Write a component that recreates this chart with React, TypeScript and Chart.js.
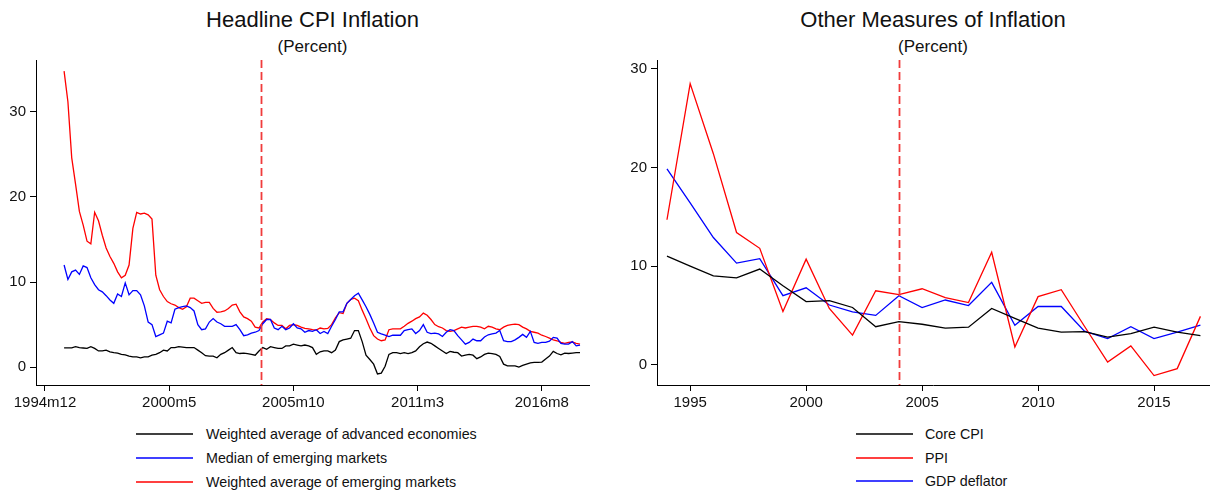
import React, { useEffect, useRef } from 'react';
import { Chart, registerables } from 'chart.js';

Chart.register(...registerables);

const FONT = '"Liberation Sans", Arial, Helvetica, sans-serif';

// ---------- Left panel: Headline CPI inflation (monthly, index 0 = 1994m12) ----------
const cpiStartMonth = 10;
const cpiStepMonths = 2;

const advancedCPI = [
  2.27, 2.27, 2.27, 2.4, 2.3, 2.25, 2.2, 2.4, 2.2, 1.9,
  1.9, 2.0, 1.8, 1.7, 1.65, 1.5, 1.45, 1.3, 1.2, 1.2,
  1.1, 1.2, 1.2, 1.4, 1.5, 1.7, 2.0, 1.9, 2.3, 2.3,
  2.4, 2.35, 2.3, 2.3, 2.3, 2.0, 1.7, 1.35, 1.3, 1.3,
  1.1, 1.5, 1.7, 2.0, 2.3, 1.7, 1.6, 1.65, 1.6, 1.5,
  1.4, 1.9, 2.3, 2.1, 2.4, 2.3, 2.2, 2.2, 2.5, 2.5,
  2.7, 2.6, 2.5, 2.6, 2.5, 2.3, 1.5, 1.8, 1.9, 1.9,
  1.7, 2.0, 3.0, 3.2, 3.3, 3.4, 4.3, 4.3, 3.0, 1.4,
  0.9, 0.35, -0.8, -0.7, 0.1, 1.5, 1.7, 1.7, 1.6, 1.7,
  1.6, 1.7, 1.9, 2.4, 2.75, 2.95, 2.8, 2.5, 2.2, 1.9,
  1.6, 1.85, 1.75, 1.7, 1.3, 1.4, 1.5, 1.4, 1.0, 1.2,
  1.5, 1.65, 1.6, 1.5, 1.25, 0.35, 0.15, 0.15, 0.15, 0.0,
  0.2, 0.35, 0.5, 0.55, 0.55, 0.6, 0.95, 1.3, 1.85, 1.6,
  1.45, 1.65, 1.6, 1.65, 1.7, 1.7,
];

const medianEM = [
  12.0, 10.3, 11.2, 11.4, 10.9, 11.9, 11.7, 10.5, 9.7, 9.1,
  8.85, 8.4, 7.9, 7.5, 8.6, 8.3, 9.9, 8.5, 9.0, 9.0,
  8.5, 7.2, 5.3, 5.0, 3.6, 3.8, 4.0, 5.4, 5.2, 6.8,
  7.0, 7.1, 7.2, 7.0, 6.6, 5.0, 4.4, 4.5, 5.3, 5.7,
  5.3, 5.1, 4.8, 4.8, 4.8, 5.0, 4.4, 3.7, 3.8, 4.0,
  4.1, 4.3, 5.1, 5.6, 5.6, 4.6, 4.4, 4.8, 4.4, 4.6,
  5.1, 4.6, 4.5, 4.1, 4.3, 4.2, 4.4, 3.95, 4.2, 3.95,
  4.8, 5.6, 6.5, 6.5, 7.5, 7.95, 8.4, 8.7, 7.9, 7.1,
  6.2, 5.2, 4.1, 3.9, 3.75, 3.6, 3.75, 3.75, 3.75, 4.3,
  4.4, 4.5, 3.95, 4.3, 5.0, 4.1, 3.95, 4.0, 3.9, 3.6,
  4.1, 4.4, 4.3, 3.7, 3.2, 2.7, 2.9, 3.3, 3.1, 3.1,
  3.55, 3.8, 3.9, 4.0, 4.3, 3.1, 3.0, 3.0, 3.2, 3.5,
  3.85, 3.5, 4.2, 2.9, 2.8, 2.9, 2.9, 3.05, 3.5, 3.4,
  2.8, 2.7, 2.7, 3.0, 2.5, 2.6,
];

const weightedEM = [
  34.8, 31.2, 24.6, 21.5, 18.3, 16.7, 14.8, 14.5, 18.2, 17.2,
  15.5, 14.0, 13.0, 12.2, 11.2, 10.5, 10.8, 12.0, 16.3, 18.2,
  18.0, 18.1, 17.9, 17.4, 10.8, 9.1, 8.3, 7.7, 7.45, 7.3,
  7.0, 6.8, 7.1, 8.1, 8.1, 7.8, 7.5, 7.6, 7.6, 6.9,
  6.45, 6.5, 6.6, 6.9, 7.3, 7.4, 6.5, 5.9, 5.7, 5.4,
  4.7, 4.6, 5.3, 5.7, 5.6, 5.2, 4.9, 4.9, 4.5, 4.9,
  5.0, 4.9, 4.7, 4.55, 4.5, 4.4, 4.35, 4.6, 4.5, 4.55,
  5.0, 5.8, 6.4, 6.3, 7.5, 7.95, 8.1, 7.8, 6.7, 5.7,
  4.6, 3.7, 3.3, 3.1, 3.2, 4.4, 4.5, 4.5, 4.5, 4.8,
  5.15, 5.4, 5.7, 5.9, 6.35, 6.1, 5.6, 5.0, 4.75, 4.6,
  4.3, 4.2, 4.3, 4.5, 4.7, 4.6, 4.7, 4.8, 4.8, 4.7,
  4.5, 4.8, 4.7, 4.5, 4.4, 4.7, 4.9, 5.0, 5.05, 5.0,
  4.7, 4.5, 4.2, 4.1, 4.0, 3.75, 3.6, 3.4, 3.2, 3.1,
  2.9, 2.8, 2.9, 2.95, 2.8, 2.7,
];

const cpiTickMonths = [0, 65, 130, 195, 260];
const cpiTickLabels = ['1994m12', '2000m5', '2005m10', '2011m3', '2016m8'];
const cpiMarkerMonth = 113;

// ---------- Right panel: other measures (annual) ----------
const years = [
  1994, 1995, 1996, 1997, 1998, 1999, 2000, 2001, 2002, 2003, 2004, 2005,
  2006, 2007, 2008, 2009, 2010, 2011, 2012, 2013, 2014, 2015, 2016, 2017,
];
const coreCPI = [
  11.0, 10.0, 9.0, 8.8, 9.7, 8.0, 6.4, 6.5, 5.8, 3.85, 4.36, 4.1,
  3.7, 3.8, 5.7, 4.7, 3.7, 3.3, 3.35, 2.8, 3.15, 3.8, 3.3, 2.95,
];
const ppi = [
  14.7, 28.5, 21.4, 13.4, 11.8, 5.4, 10.7, 5.7, 3.0, 7.5, 7.1, 7.7,
  6.8, 6.3, 11.4, 1.8, 6.9, 7.6, 3.9, 0.27, 1.9, -1.1, -0.4, 4.9,
];
const gdpDeflator = [
  19.85, 16.4, 12.9, 10.3, 10.75, 7.0, 7.8, 6.05, 5.35, 5.0, 7.0, 5.8,
  6.56, 6.0, 8.35, 4.0, 5.9, 5.9, 3.4, 2.64, 3.85, 2.64, 3.3, 4.0,
];
const yearTicks = [1995, 2000, 2005, 2010, 2015];
const yearMarker = 2004;

const valueTicks = [0, 10, 20, 30];

const cpiMonths = advancedCPI.map((_, i) => cpiStartMonth + i * cpiStepMonths);
const toPoints = (xs: number[], ys: number[]) => ys.map((y, i) => ({ x: xs[i], y }));

const markerPlugin = (value: number) => ({
  id: 'marker',
  afterDatasetsDraw(chart: any) {
    const { ctx, chartArea, scales } = chart;
    const x = Math.round(scales.x.getPixelForValue(value)) + 0.5;
    ctx.save();
    ctx.strokeStyle = '#f03c3c';
    ctx.lineWidth = 1.8;
    ctx.setLineDash([8, 4]);
    ctx.beginPath();
    ctx.moveTo(x, chartArea.top);
    ctx.lineTo(x, chartArea.bottom);
    ctx.stroke();
    ctx.restore();
  },
});

interface PanelOpts {
  datasets: any[];
  xMin: number;
  xMax: number;
  xTicks: number[];
  xLabel: (v: number) => string;
  yMin: number;
  yMax: number;
  yWidth: number;
  padRight: number;
  marker: number;
}

function buildConfig(o: PanelOpts): any {
  const axisCommon = {
    grid: { drawOnChartArea: false, drawTicks: true, tickLength: 6, color: '#000', lineWidth: 1 },
    border: { display: true, color: '#000', width: 1 },
  };
  return {
    type: 'line',
    data: { datasets: o.datasets },
    plugins: [markerPlugin(o.marker)],
    options: {
      animation: false,
      responsive: false,
      maintainAspectRatio: false,
      devicePixelRatio: 1,
      layout: { padding: { top: 60, left: 0, right: o.padRight, bottom: 0 } },
      plugins: { legend: { display: false }, title: { display: false }, tooltip: { enabled: false } },
      elements: { point: { radius: 0 }, line: { tension: 0 } },
      scales: {
        x: {
          type: 'linear',
          min: o.xMin,
          max: o.xMax,
          ...axisCommon,
          afterBuildTicks: (s: any) => {
            s.ticks = o.xTicks.map((v) => ({ value: v }));
          },
          afterFit: (s: any) => {
            s.height = 25;
          },
          ticks: {
            autoSkip: false,
            maxRotation: 0,
            padding: 3,
            color: '#111',
            font: { family: FONT, size: 15 },
            callback: (v: any) => o.xLabel(Number(v)),
          },
        },
        y: {
          type: 'linear',
          min: o.yMin,
          max: o.yMax,
          ...axisCommon,
          afterBuildTicks: (s: any) => {
            s.ticks = valueTicks.map((v) => ({ value: v }));
          },
          afterFit: (s: any) => {
            s.width = o.yWidth;
          },
          ticks: {
            padding: 4,
            color: '#111',
            font: { family: FONT, size: 15 },
            callback: (v: any) => String(v),
          },
        },
      },
    },
  };
}

function ChartPanel({ config, left, width, height }: { config: any; left: number; width: number; height: number }) {
  const ref = useRef<HTMLCanvasElement | null>(null);
  useEffect(() => {
    if (!ref.current) return;
    const chart = new Chart(ref.current, config);
    return () => chart.destroy();
  }, [config]);
  return (
    <canvas
      ref={ref}
      width={width}
      height={height}
      style={{ position: 'absolute', left, top: 0, width, height }}
    />
  );
}

const line = (label: string, xs: number[], ys: number[], color: string) => ({
  label,
  data: toPoints(xs, ys),
  borderColor: color,
  backgroundColor: color,
  borderWidth: 1.3,
  pointRadius: 0,
  fill: false,
});

const leftConfig = buildConfig({
  datasets: [
    line('Weighted average of advanced economies', cpiMonths, advancedCPI, '#000000'),
    line('Median of emerging markets', cpiMonths, medianEM, '#0000ff'),
    line('Weighted average of emerging markets', cpiMonths, weightedEM, '#ff0000'),
  ],
  xMin: -4.7,
  xMax: 284.7,
  xTicks: cpiTickMonths,
  xLabel: (v) => cpiTickLabels[cpiTickMonths.indexOf(v)] ?? '',
  yMin: -2.1,
  yMax: 36.1,
  yWidth: 36,
  padRight: 17,
  marker: cpiMarkerMonth,
});

const rightConfig = buildConfig({
  datasets: [
    line('Core CPI', years, coreCPI, '#000000'),
    line('PPI', years, ppi, '#ff0000'),
    line('GDP deflator', years, gdpDeflator, '#0000ff'),
  ],
  xMin: 1993.57,
  xMax: 2017.37,
  xTicks: yearTicks,
  xLabel: (v) => String(v),
  yMin: -2.06,
  yMax: 30.9,
  yWidth: 51,
  padRight: 4,
  marker: yearMarker,
});

function Title({ text, sub, center }: { text: string; sub: string; center: number }) {
  const base: React.CSSProperties = {
    position: 'absolute',
    width: 400,
    left: center - 200,
    textAlign: 'center',
    fontFamily: FONT,
    color: '#111',
    whiteSpace: 'nowrap',
  };
  return (
    <>
      <div style={{ ...base, top: 9.4, fontSize: 22, lineHeight: '22px' }}>{text}</div>
      <div style={{ ...base, top: 37.6, fontSize: 17, lineHeight: '17px' }}>{sub}</div>
    </>
  );
}

function Legend({ items, lineLeft, textLeft, rows }: { items: { label: string; color: string }[]; lineLeft: number; textLeft: number; rows: number[] }) {
  return (
    <>
      {items.map((it, i) => (
        <React.Fragment key={it.label}>
          <svg
            width={57}
            height={6}
            style={{ position: 'absolute', left: lineLeft, top: Math.round(rows[i]) - 3, overflow: 'visible' }}
          >
            <line x1={0} y1={3} x2={57} y2={3} stroke={it.color} strokeWidth={1.5} />
          </svg>
          <div
            style={{
              position: 'absolute',
              left: textLeft,
              top: rows[i] - 6.6,
              fontFamily: FONT,
              fontSize: 14.3,
              lineHeight: '14.3px',
              color: '#111',
              whiteSpace: 'nowrap',
            }}
          >
            {it.label}
          </div>
        </React.Fragment>
      ))}
    </>
  );
}

export default function App() {
  return (
    <div
      style={{
        position: 'fixed',
        left: 0,
        top: 0,
        width: 1213,
        height: 491,
        background: '#ffffff',
        overflow: 'hidden',
      }}
    >
      <Title text="Headline CPI Inflation" sub="(Percent)" center={312.5} />
      <Title text="Other Measures of Inflation" sub="(Percent)" center={933} />
      <ChartPanel config={leftConfig} left={0} width={606} height={410} />
      <ChartPanel config={rightConfig} left={606} width={607} height={410} />
      <Legend
        items={[
          { label: 'Weighted average of advanced economies', color: '#000000' },
          { label: 'Median of emerging markets', color: '#0000ff' },
          { label: 'Weighted average of emerging markets', color: '#ff0000' },
        ]}
        lineLeft={136}
        textLeft={206}
        rows={[434, 458, 481.7]}
      />
      <Legend
        items={[
          { label: 'Core CPI', color: '#000000' },
          { label: 'PPI', color: '#ff0000' },
          { label: 'GDP deflator', color: '#0000ff' },
        ]}
        lineLeft={856}
        textLeft={925}
        rows={[434, 457.7, 481]}
      />
    </div>
  );
}
